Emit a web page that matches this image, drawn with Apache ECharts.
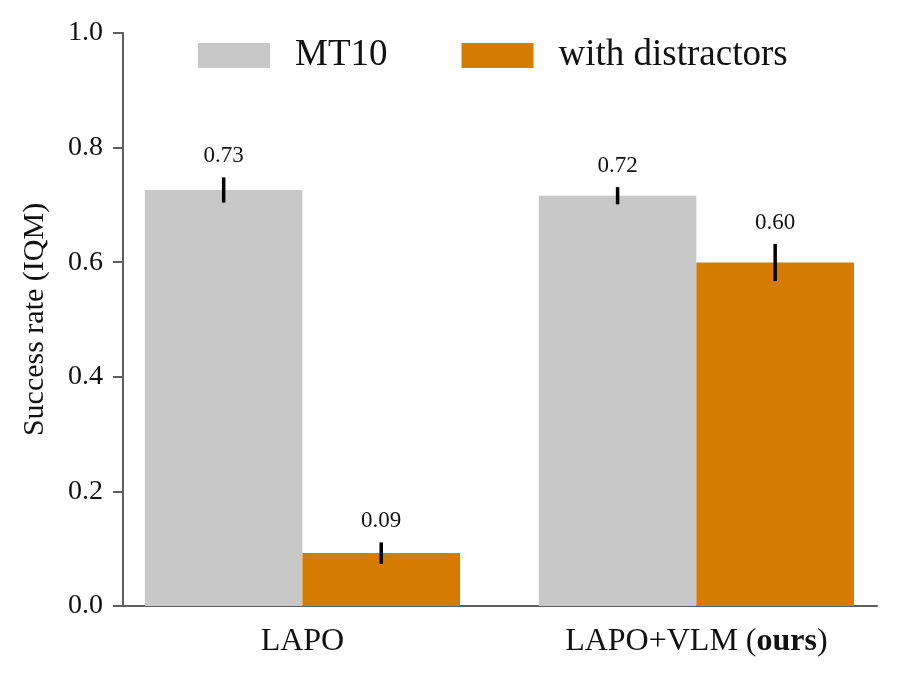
<!DOCTYPE html>
<html>
<head>
<meta charset="utf-8">
<script src="https://cdn.jsdelivr.net/npm/echarts@6/dist/echarts.min.js"></script>
<style>
html,body{margin:0;padding:0;background:#fff;}
#chart{width:898px;height:680px;}
</style>
</head>
<body>
<div id="chart"></div>
<script>
const categories = ['LAPO', 'LAPO+VLM (ours)'];
const seriesNames = ['MT10', 'with distractors'];
const mt10Values = [0.726, 0.716];
const mt10Low = [0.704, 0.701];
const mt10High = [0.748, 0.731];
const distValues = [0.0926, 0.5995];
const distLow = [0.0735, 0.567];
const distHigh = [0.111, 0.632];
const yTicks = [0, 0.2, 0.4, 0.6, 0.8, 1.0];

const FONT = '"Liberation Serif", "DejaVu Serif", serif';
const AXIS_COLOR = '#5f5f5f';
const GRAY = '#c8c8c8';
const ORANGE = '#d47b00';

function barData(vals) { return vals.map((v, i) => [i, v]); }
function errData(vals, lo, hi) { return vals.map((v, i) => [i, lo[i], hi[i], v]); }

function errRender(offset) {
  return function (params, api) {
    const x = api.value(0);
    const top = api.coord([x + offset, api.value(2)]);
    const bot = api.coord([x + offset, api.value(1)]);
    return {
      type: 'group',
      children: [
        { type: 'line', shape: { x1: top[0], y1: top[1], x2: bot[0], y2: bot[1] },
          style: { stroke: '#000', lineWidth: 3.5 } },
        { type: 'text', x: top[0], y: top[1] - 21,
          style: { text: api.value(3).toFixed(2), font: '23px ' + FONT, fill: '#111',
                   align: 'center', verticalAlign: 'middle' } }
      ]
    };
  };
}

const chart = echarts.init(document.getElementById('chart'), null, { renderer: 'canvas' });
chart.setOption({
  animation: false,
  backgroundColor: '#fff',
  grid: { left: 123, right: 21, top: 33, bottom: 74, containLabel: false },
  legend: {
    left: 193, top: 32,
    itemWidth: 72, itemHeight: 25, itemGap: 74,
    icon: 'rect',
    data: seriesNames,
    textStyle: { fontFamily: FONT, fontSize: 37, color: '#111', padding: [0, 0, 0, 20] }
  },
  xAxis: {
    type: 'value',
    min: -0.4555, max: 1.4585,
    splitLine: { show: false },
    axisLine: { show: true, onZero: false, lineStyle: { color: AXIS_COLOR, width: 2 } },
    axisTick: { show: false },
    axisLabel: {
      customValues: [0, 1],
      margin: 20,
      fontFamily: FONT, fontSize: 32, color: '#111',
      formatter: function (v) {
        const c = categories[Math.round(v)];
        if (c === undefined) return '';
        return c.replace('(ours)', '({b|ours})');
      },
      rich: { b: { fontFamily: FONT, fontSize: 32, fontWeight: 'bold', color: '#111' } }
    }
  },
  yAxis: {
    type: 'value',
    min: 0, max: 1, interval: 0.2,
    name: 'Success rate (IQM)',
    nameLocation: 'middle',
    nameGap: 73,
    nameTextStyle: { fontFamily: FONT, fontSize: 30, color: '#111' },
    splitLine: { show: false },
    axisLine: { show: true, onZero: false, lineStyle: { color: AXIS_COLOR, width: 2 } },
    axisTick: { show: true, length: 10, inside: false, lineStyle: { color: AXIS_COLOR, width: 2 } },
    axisLabel: {
      margin: 20, fontFamily: FONT, fontSize: 28, color: '#111',
      formatter: function (v) { return v.toFixed(1); }
    }
  },
  series: [
    { name: seriesNames[0], type: 'bar', data: barData(mt10Values), barWidth: 157.6, barGap: '0%',
      itemStyle: { color: GRAY } },
    { name: seriesNames[1], type: 'bar', data: barData(distValues), barWidth: 157.6, barGap: '0%',
      itemStyle: { color: ORANGE } },
    { type: 'custom', renderItem: errRender(-0.2), data: errData(mt10Values, mt10Low, mt10High), z: 5 },
    { type: 'custom', renderItem: errRender(0.2), data: errData(distValues, distLow, distHigh), z: 5 }
  ]
});
</script>
</body>
</html>
